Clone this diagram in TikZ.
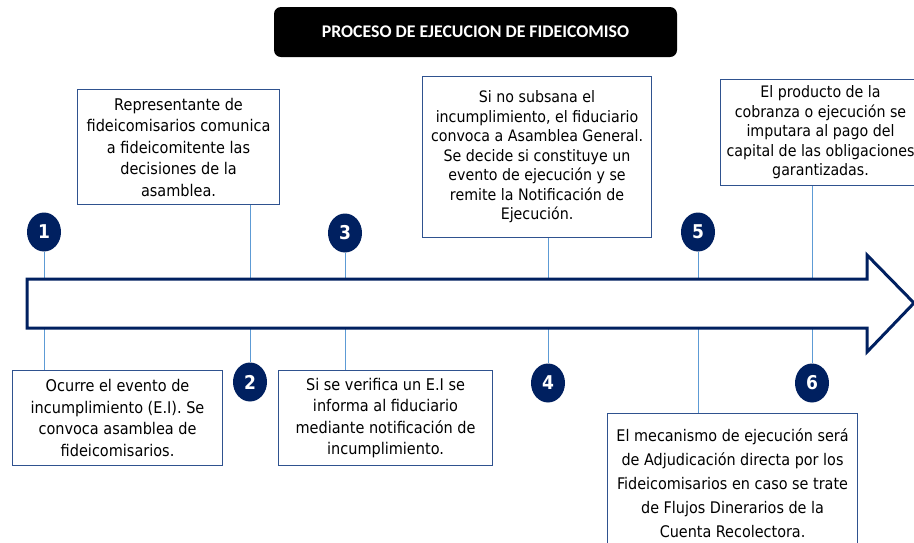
\documentclass[tikz,border=0pt]{standalone}
\usepackage{fontspec}
\setmainfont{DejaVu Sans Condensed}
\newfontfamily\titlefont{Carlito}
\usepackage{tikz}
\usepackage{xcolor}
\usetikzlibrary{shapes.geometric}
\definecolor{navy}{RGB}{0,32,96}
\definecolor{boxline}{RGB}{47,82,143}
\definecolor{linkblue}{RGB}{93,155,213}

\begin{document}
\begin{tikzpicture}[x=1pt,y=-1pt,
  txtbox/.style={draw=boxline,line width=1.1pt,fill=white,align=center,inner sep=0pt,anchor=north west},
  num/.style={ellipse,fill=navy,text=white,minimum width=34pt,minimum height=39pt,inner sep=0pt,font=\bfseries\fontsize{19}{22}\selectfont},
  link/.style={linkblue,line width=1pt}]
\clip (0,0) rectangle (914,542);
\fill[white] (0,0) rectangle (914,542);

% titulo
\node[fill=black,rounded corners=7pt,minimum width=403pt,minimum height=50pt,text=white,font=\titlefont\bfseries\fontsize{17.8}{20}\selectfont] (titulo) at (475.5,32) {PROCESO DE EJECUCION DE FIDEICOMISO};

% cajas de texto
\node[txtbox,minimum width=210pt,minimum height=95pt,font=\fontsize{16.1}{21.5}\selectfont] (b1) at (12,370) {Ocurre el evento de\\incumplimiento (E.I). Se\\convoca asamblea de\\fideicomisarios.};
\node[txtbox,minimum width=202pt,minimum height=115pt,font=\fontsize{16.1}{21.5}\selectfont] (b2) at (77,89) {Representante de\\fideicomisarios comunica\\a fideicomitente las\\decisiones de la\\asamblea.};
\node[txtbox,minimum width=214pt,minimum height=95pt,font=\fontsize{16.1}{21.5}\selectfont] (b3) at (278,370) {Si se verifica un E.I se\\informa al fiduciario\\mediante notificación de\\incumplimiento.};
\node[txtbox,minimum width=229pt,minimum height=161pt,font=\fontsize{15.8}{19.5}\selectfont] (b4) at (422,76) {Si no subsana el\\incumplimiento, el fiduciario\\convoca a Asamblea General.\\Se decide si constituye un\\evento de ejecución y se\\remite la Notificación de\\Ejecución.};
\node[txtbox,minimum width=250pt,minimum height=140pt,font=\fontsize{16}{24}\selectfont] (b5) at (607,413) {El mecanismo de ejecución será\\de Adjudicación directa por los\\Fideicomisarios en caso se trate\\de Flujos Dinerarios de la\\Cuenta Recolectora.};
\node[txtbox,minimum width=200pt,minimum height=106pt,font=\fontsize{15.8}{19.5}\selectfont] (b6) at (720,79) {El producto de la\\cobranza o ejecución se\\imputara al pago del\\capital de las obligaciones\\garantizadas.};

% numeros
\node[num] (n1) at (44,232) {1};
\node[num] (n2) at (250,382) {2};
\node[num] (n3) at (345,233) {3};
\node[num] (n4) at (548,383) {4};
\node[num] (n5) at (698,232) {5};
\node[num] (n6) at (812,383) {6};

% lineas
\draw[link] (n1) -- (n1 |- b1.north);
\draw[link] (b2.south -| n2) -- (n2);
\draw[link] (n3) -- (n3 |- b3.north);
\draw[link] (b4.south -| n4) -- (n4);
\draw[link] (n5) -- (n5 |- b5.north);
\draw[link] (b6.south -| n6) -- (n6);

% flecha
\draw[navy,line width=3pt,fill=white,line join=miter] (27,279) -- (867,279) -- (867,255) -- (914,303) -- (867,352) -- (867,328) -- (27,328) -- cycle;

\end{tikzpicture}
\end{document}
